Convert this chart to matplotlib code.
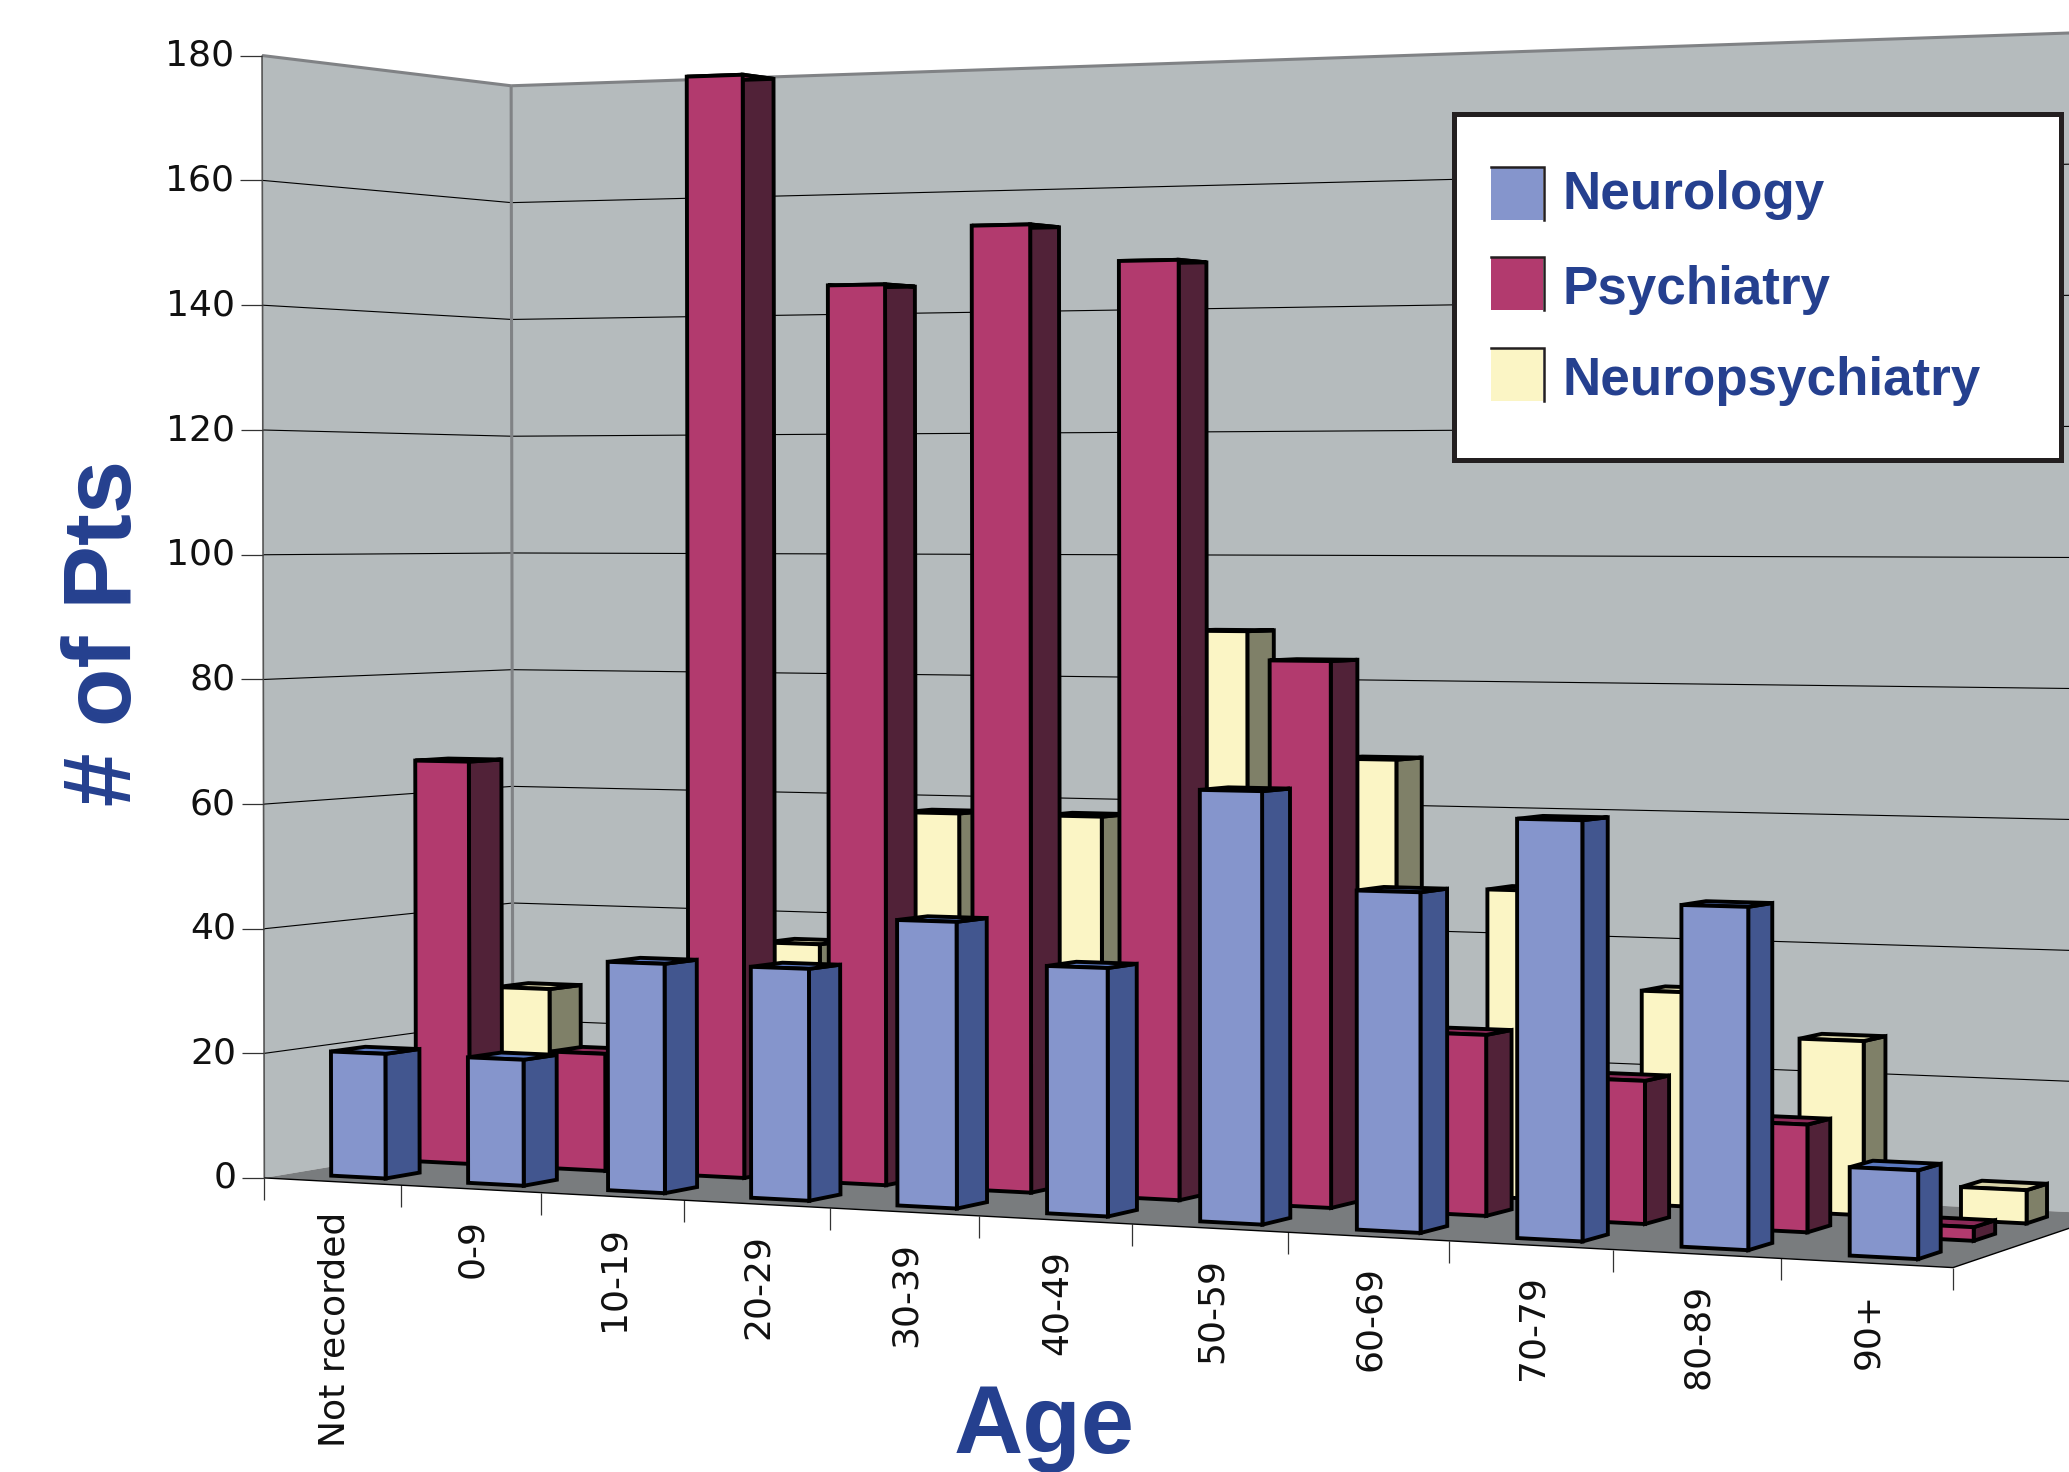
import numpy as np
import matplotlib
matplotlib.use("Agg")
import matplotlib.pyplot as plt
from matplotlib.patches import Polygon, Rectangle

categories = ["Not recorded", "0-9", "10-19", "20-29", "30-39", "40-49",
              "50-59", "60-69", "70-79", "80-89", "90+"]
neurology = [20, 20, 36, 36, 44, 37.7, 65, 50.5, 61.7, 49.7, 12.7]
psychiatry = [66, 19, 177, 143, 152, 146, 84, 27.5, 21.5, 16, 2]
neuropsychiatry = [27, 20, 36, 58, 58, 88, 68, 48, 33, 26.5, 5]
series_names = ["Neurology", "Psychiatry", "Neuropsychiatry"]
y_ticks = list(range(0, 181, 20))
x_title = "Age"
y_title = "# of Pts"

W, H = 2069, 1472
S = W / 1568.0
TXT = "#25408F"
WALL = "#B5BBBD"
FLOOR = "#797C7E"
FRAME = "#808285"
COLORS = [("#8595CC", "#42568F", "#5A78C0"),
          ("#B23A6E", "#512238", "#8B2A58"),
          ("#FBF5C5", "#7F8068", "#D8D3A8")]
BAR_W = 0.4
N = len(categories)

# camera calibration: (category, depth, value) -> screen position (shrunk-view px)
cal = [((0, 0, 0), (201, 892)), ((N, 0, 0), (1480, 962)),
       ((0, 0, 180), (198, 42)), ((0, 1, 0), (388, 862)),
       ((0, 1, 180), (388, 65)), ((N, 1, 0), (1600, 919)),
       ((N, 1, 180), (1600, 24)), ((5, 0, 0), (742, 921))]
A = []
b = []
for (X, Y, Z), (u, v) in cal:
    A.append([X, Y, Z, 1, 0, 0, 0, 0, -u * X, -u * Y, -u * Z]); b.append(u)
    A.append([0, 0, 0, 0, X, Y, Z, 1, -v * X, -v * Y, -v * Z]); b.append(v)
p = np.linalg.lstsq(np.array(A, float), np.array(b, float), rcond=None)[0]
P = np.append(p, 1.0).reshape(3, 4)


def pr(c, d, v):
    q = P @ np.array([c, d, v, 1.0])
    return q[0] / q[2] * S, q[1] / q[2] * S


fig = plt.figure(figsize=(W / 100, H / 100), dpi=100, facecolor="white")
ax = fig.add_axes([0, 0, 1, 1])
ax.set_xlim(0, W)
ax.set_ylim(H, 0)
ax.axis("off")


def poly(pts, fc, ec="none", lw=0, z=1):
    ax.add_patch(Polygon(pts, closed=True, facecolor=fc, edgecolor=ec, linewidth=lw,
                         joinstyle="miter", zorder=z))


def line(a, b, color="black", lw=0.8, z=2):
    ax.plot([a[0], b[0]], [a[1], b[1]], color=color, lw=lw, zorder=z, solid_capstyle="butt")


# walls and floor
poly([pr(0, 0, 0), pr(0, 1, 0), pr(0, 1, 180), pr(0, 0, 180)], WALL)
poly([pr(0, 1, 0), pr(N, 1, 0), pr(N, 1, 180), pr(0, 1, 180)], WALL)
poly([pr(0, 0, 0), pr(N, 0, 0), pr(N, 1, 0), pr(0, 1, 0)], FLOOR)
for t in y_ticks[1:-1]:
    line(pr(0, 0, t), pr(0, 1, t))
    line(pr(0, 1, t), pr(N, 1, t))
line(pr(0, 0, 180), pr(0, 1, 180), FRAME, 2.2)
line(pr(0, 1, 180), pr(N, 1, 180), FRAME, 2.2)
line(pr(0, 1, 0), pr(0, 1, 180), FRAME, 2.2)
line(pr(0, 0, 0), pr(0, 0, 180), "#555555", 1.2)
line(pr(0, 0, 0), pr(N, 0, 0), "black", 1.0, 3)
line(pr(N, 0, 0), pr(N, 1, 0), "black", 1.0, 3)

# axis ticks and labels
for t in y_ticks:
    x, y = pr(0, 0, t)
    line((x - 22, y), (x, y), "#333333", 0.9)
    ax.text(x - 28, y, str(t), ha="right", va="center", fontsize=26,
            family="DejaVu Sans", color="#111111")
for i in range(N + 1):
    x, y = pr(i, 0, 0)
    line((x, y), (x, y + 22), "#333333", 0.9)
for i, name in enumerate(categories):
    x, y = pr(i + 0.5, 0, 0)
    ax.text(x + 2, y + 30, name, rotation=90, ha="center", va="top", fontsize=26,
            family="DejaVu Sans", color="#111111")

ax.text(106, 633, y_title, rotation=90, ha="center", va="center", fontsize=69,
        family="Liberation Sans", weight="bold", color=TXT)
ax.text(1044, 1453, x_title, ha="center", va="baseline", fontsize=69,
        family="Liberation Sans", weight="bold", color=TXT)


# bars, painted back to front
def bar(c, d0, d1, val, cols):
    face, side, top = cols
    c0 = c + 0.5 - BAR_W / 2
    c1 = c + 0.5 + BAR_W / 2
    kw = dict(ec="black", lw=2.8, z=5)
    poly([pr(c1, d0, 0), pr(c1, d1, 0), pr(c1, d1, val), pr(c1, d0, val)], side, **kw)
    poly([pr(c0, d0, val), pr(c1, d0, val), pr(c1, d1, val), pr(c0, d1, val)], top, **kw)
    poly([pr(c0, d0, 0), pr(c1, d0, 0), pr(c1, d0, val), pr(c0, d0, val)], face, **kw)


series = [neurology, psychiatry, neuropsychiatry]
for s in (2, 1, 0):
    centre = (s + 0.5) / 3
    half = BAR_W / 3 / 2
    for c, val in enumerate(series[s]):
        bar(c, centre - half, centre + half, val, COLORS[s])

# legend
ax.add_patch(Rectangle((1454, 114), 607, 346, facecolor="white", edgecolor="#231F20",
                       linewidth=3.6, zorder=10))
for name, cols, sy, ty in zip(series_names, COLORS, (167, 257, 348), (195, 290, 381)):
    ax.add_patch(Rectangle((1491, sy), 52, 53, facecolor=cols[0], edgecolor="none", zorder=11))
    ax.plot([1491, 1544, 1544], [sy, sy, sy + 53], color="#231F20", lw=1.8, zorder=12,
            solid_joinstyle="miter")
    ax.text(1562, ty, name, ha="left", va="center", fontsize=38.2, family="Liberation Sans",
            weight="bold", color=TXT, zorder=12)

fig.savefig("out.png", dpi=100, facecolor="white")
